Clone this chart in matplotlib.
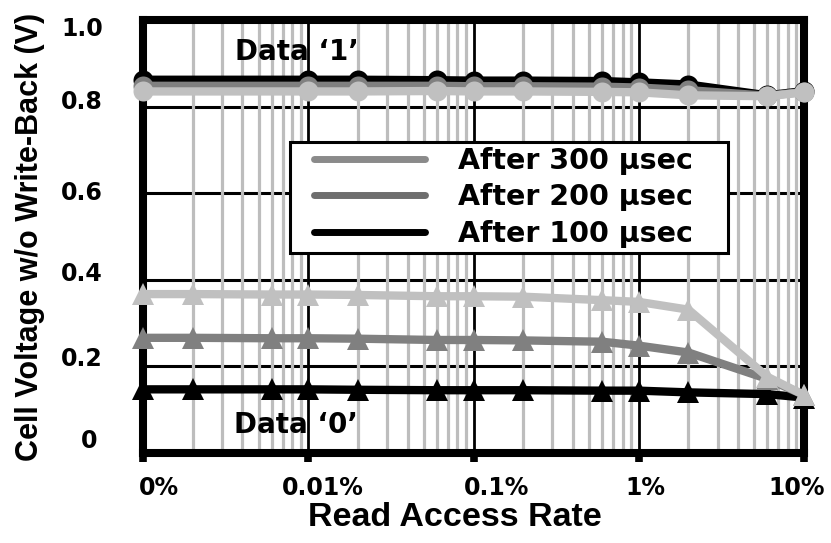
import matplotlib
matplotlib.use("Agg")
import matplotlib.pyplot as plt
from matplotlib.lines import Line2D
from matplotlib.legend_handler import HandlerLine2D
from matplotlib.ticker import FixedLocator, FixedFormatter, NullFormatter, LogLocator
from matplotlib.transforms import ScaledTranslation

# Read access rate in percent; the leftmost point (0.001 %) stands for "no read access"
rate_all = [0.001, 0.002, 0.006, 0.01, 0.02, 0.06, 0.1, 0.2, 0.6, 1, 2, 6, 10]
rate_one = [0.001, 0.01, 0.02, 0.06, 0.1, 0.2, 0.6, 1, 2, 6, 10]

# Cell voltage (V) for stored data '1'
one_100us = [0.862, 0.862, 0.862, 0.861, 0.860, 0.860, 0.859, 0.856, 0.851, 0.826, 0.836]
one_200us = [0.848, 0.848, 0.848, 0.848, 0.847, 0.847, 0.846, 0.844, 0.838, 0.825, 0.834]
one_300us = [0.835, 0.835, 0.835, 0.836, 0.835, 0.835, 0.834, 0.833, 0.826, 0.824, 0.833]

# Cell voltage (V) for stored data '0'
zero_100us = [0.147, 0.147, 0.147, 0.147, 0.146, 0.145, 0.145, 0.145, 0.144, 0.144, 0.140, 0.136, 0.128]
zero_200us = [0.266, 0.266, 0.265, 0.265, 0.264, 0.261, 0.261, 0.260, 0.257, 0.248, 0.232, 0.171, 0.134]
zero_300us = [0.367, 0.367, 0.366, 0.366, 0.365, 0.362, 0.362, 0.361, 0.353, 0.349, 0.331, 0.176, 0.134]

x_ticks = [0.001, 0.01, 0.1, 1, 10]
x_tick_labels = ["0%", "0.01%", "0.1%", "1%", "10%"]
y_ticks = [0, 0.2, 0.4, 0.6, 0.8, 1.0]
y_tick_labels = ["0", "0.2", "0.4", "0.6", "0.8", "1.0"]
series_labels = ["After 300 µsec", "After 200 µsec", "After 100 µsec"]

col_100, col_200, col_300 = "#000000", "#808080", "#c0c0c0"
legend_colors = ["#8a8a8a", "#6e6e6e", "#000000"]

plt.rcParams["font.family"] = ["DejaVu Sans"]
plt.rcParams["font.weight"] = "bold"

fig = plt.figure(figsize=(8.31, 5.43), dpi=100)
ax = fig.add_axes([143 / 831, 1 - 453 / 543, (804 - 143) / 831, (453 - 20) / 543])

ax.set_xscale("log")
ax.set_xlim(0.001, 10)
ax.set_ylim(0, 1)

# grid: black horizontals underneath, grey minor verticals, black decade lines on top
ax.yaxis.set_zorder(0.3)
ax.xaxis.set_zorder(0.5)
ax.grid(axis="y", which="major", color="black", lw=2.2)
ax.grid(axis="x", which="major", color="black", lw=2.0)
ax.grid(axis="x", which="minor", color="#bdbdbd", lw=2.3)

ax.xaxis.set_major_locator(FixedLocator(x_ticks))
ax.xaxis.set_major_formatter(FixedFormatter(x_tick_labels))
ax.xaxis.set_minor_locator(LogLocator(base=10, subs=range(2, 10)))
ax.xaxis.set_minor_formatter(NullFormatter())
ax.yaxis.set_major_locator(FixedLocator(y_ticks))
ax.yaxis.set_major_formatter(FixedFormatter(y_tick_labels))

ax.tick_params(axis="x", which="major", direction="out", length=6.5, width=5.5,
               pad=10, labelsize=17, colors="black")
ax.tick_params(axis="x", which="minor", length=0)
ax.tick_params(axis="y", which="both", length=0, pad=28.8, labelsize=17)

for s in ax.spines.values():
    s.set_linewidth(5.8)
    s.set_color("black")
    s.set_capstyle("projecting")

line_kw = dict(lw=6, solid_joinstyle="round", solid_capstyle="round",
               markeredgewidth=0, clip_on=False)
# data '1' (circles)
ax.plot(rate_one, one_100us, color=col_100, marker="o", ms=14.4, zorder=3, **line_kw)
ax.plot(rate_one, one_200us, color=col_200, marker="o", ms=14.4, zorder=4, **line_kw)
ax.plot(rate_one, one_300us, color=col_300, marker="o", ms=14.4, zorder=5, **line_kw)
# data '0' (triangles)
ax.plot(rate_all, zero_100us, color=col_100, marker="^", ms=16.5, zorder=3, **line_kw)
ax.plot(rate_all, zero_200us, color=col_200, marker="^", ms=16.5, zorder=4, **line_kw)
ax.plot(rate_all, zero_300us, color=col_300, marker="^", ms=16.5, zorder=5, **line_kw)

ax.text(0.00857, 0.926, "Data \u20181\u2019", ha="center", va="center",
        fontsize=20, fontweight="bold", zorder=0.6)
ax.text(0.0084, 0.065, "Data \u20180\u2019", ha="center", va="center",
        fontsize=20, fontweight="bold", zorder=0.6)

handles = [Line2D([], [], color=c, lw=5, solid_capstyle="round") for c in legend_colors]
leg = ax.legend(handles, series_labels, loc="upper left",
                bbox_to_anchor=(0.2224, 0.5, 0.6626, 0.2182), mode="expand",
                borderaxespad=0, borderpad=0.16, handlelength=4.57,
                handletextpad=1.18, labelspacing=0.31, fancybox=False,
                framealpha=1, edgecolor="black",
                prop={"family": "DejaVu Sans", "weight": "bold", "size": 20.5},
                handler_map={Line2D: HandlerLine2D(xpad=0.67)})
leg.get_frame().set_linewidth(2.2)
leg.set_zorder(6)

ax.set_xlabel("Read Access Rate", fontfamily="Liberation Sans",
              fontweight="bold", fontsize=24.5)
ax.xaxis.set_label_coords(0.472, -0.1143)
ax.set_ylabel("Cell Voltage w/o Write-Back (V)", fontfamily="Liberation Sans",
              fontweight="bold", fontsize=22)
ax.yaxis.set_label_coords(-0.149, 0.5)

# small per-label nudges (pixels: right, down)
x_nudge = [(16, 0), (15, 0), (23, 0), (7, 0), (-7, 0)]
y_nudge = [(-6, -14), (0, -10), (0, -8), (0, -3), (0, -6.6), (0, 6)]


def nudge(labels, offsets):
    for lab, (dx, dy) in zip(labels, offsets):
        lab.set_transform(lab.get_transform() +
                          ScaledTranslation(dx / fig.dpi, -dy / fig.dpi, fig.dpi_scale_trans))


nudge(ax.get_xticklabels(), x_nudge)
nudge(ax.get_yticklabels(), y_nudge)

fig.savefig("out.png", dpi=100)
